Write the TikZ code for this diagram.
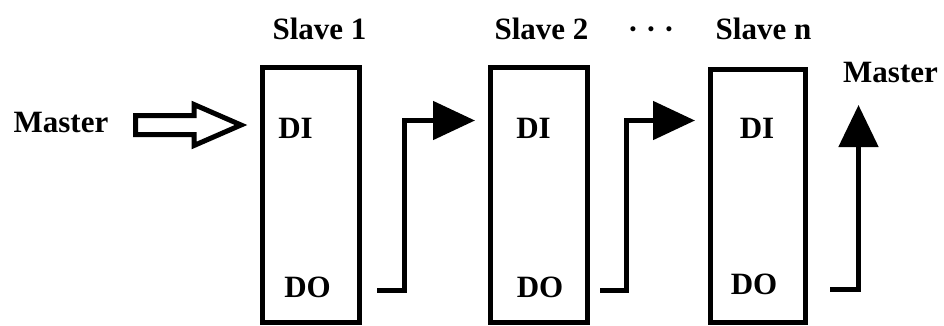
\documentclass[tikz,border=0pt]{standalone}
\usepackage{fontspec}
\setmainfont{Liberation Serif}
\usetikzlibrary{arrows.meta}
\tikzset{
  slavebox/.style={draw, line width=5pt, inner sep=0pt, outer sep=0pt},
  lbl/.style={anchor=base, inner sep=0pt, font=\bfseries\fontsize{31}{31}\selectfont},
  link/.style={line width=5pt, -{Triangle[length=42pt,width=38pt]}},
}
\begin{document}
\begin{tikzpicture}[x=1pt,y=1pt]
\useasboundingbox (0,0) rectangle (944,-325);
% boxes
\node[slavebox, minimum width=97pt, minimum height=255pt] (s1) at (311,-195) {};
\node[slavebox, minimum width=97pt, minimum height=255pt] (s2) at (539,-195) {};
\node[slavebox, minimum width=95pt, minimum height=253pt] (sn) at (758,-196) {};
% titles
\node[lbl] (t1) at (319.5,-39) {Slave 1};
\node[lbl] (t2) at (541.5,-39) {Slave 2};
\node[lbl] (dots) at (651,-39) {· · ·};
\node[lbl] (tn) at (763.5,-39) {Slave n};
\node[lbl] (m1) at (61,-132) {Master};
\node[lbl] (m2) at (890.5,-82) {Master};
% ports
\node[lbl] (di1) at (295.5,-138) {DI};
\node[lbl] (di2) at (533.5,-138) {DI};
\node[lbl] (din) at (757,-138) {DI};
\node[lbl] (do1) at (307.5,-297) {DO};
\node[lbl] (do2) at (540,-297) {DO};
\node[lbl] (don) at (754,-294) {DO};
% hollow input arrow
\draw[line width=5pt, miter limit=20] (135.5,-115.5) -- (194,-115.5) -- (194,-104.5) -- (241,-125)
  -- (194,-145.5) -- (194,-134.5) -- (135.5,-134.5) -- cycle;
% links
\coordinate (a1s) at (377,-290.5);
\coordinate (a1t) at (475,-120.5);
\coordinate (a2s) at (600,-290.5);
\coordinate (a2t) at (695,-120.5);
\coordinate (a3s) at (830,-289.5);
\coordinate (a3t) at (858.5,-105);
\draw[link] (a1s) -- (404.5,-290.5) |- (a1t);
\draw[link] (a2s) -- (626,-290.5) |- (a2t);
\draw[line width=5pt, -{Triangle[length=42pt,width=39pt]}] (a3s) -| (a3t);
\end{tikzpicture}
\end{document}
